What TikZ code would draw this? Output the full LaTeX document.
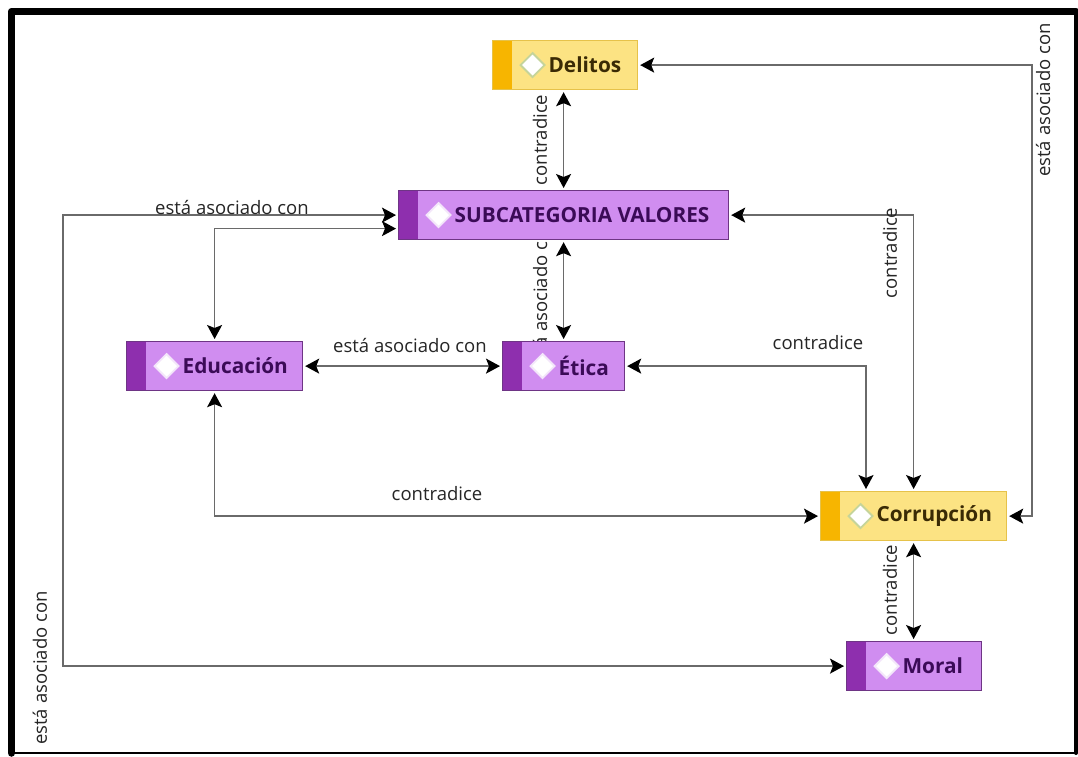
\documentclass[tikz,border=0pt]{standalone}
\usepackage{fontspec}
\setmainfont{Open Sans}
\usetikzlibrary{arrows.meta,calc}
\pgfdeclarelayer{bg}
\pgfsetlayers{bg,main}
\definecolor{ybody}{HTML}{FCE383}
\definecolor{ystripe}{HTML}{F7B500}
\definecolor{yborder}{HTML}{E6C24A}
\definecolor{pbody}{HTML}{D08DF0}
\definecolor{pstripe}{HTML}{8E2FAE}
\definecolor{pborder}{HTML}{6E3585}
\definecolor{ptext}{HTML}{3B0B57}
\definecolor{ytext}{HTML}{3A2A05}
\definecolor{edgegray}{HTML}{6A6A6A}
\definecolor{ydia}{HTML}{C5D49A}
\definecolor{pdia}{HTML}{F3E6FA}
\newcommand{\ctext}[2]{\makebox[#1][l]{\hspace{56pt}#2}}
\tikzset{
  codebox/.style={draw, line width=1.2pt, inner sep=0pt, minimum height=49pt,
    anchor=north west, font=\fontsize{20.8}{24}\selectfont\bfseries},
  ycode/.style={codebox, fill=ybody, draw=yborder, text=ytext,
    path picture={
      \fill[ystripe] (path picture bounding box.south west) rectangle ([xshift=19pt]path picture bounding box.north west);
      \filldraw[fill=white, draw=ydia, line width=1.8pt]
        ([xshift=28pt]path picture bounding box.west) -- ([xshift=40pt,yshift=12pt]path picture bounding box.west)
        -- ([xshift=52pt]path picture bounding box.west) -- ([xshift=40pt,yshift=-12pt]path picture bounding box.west) -- cycle;}},
  pcode/.style={codebox, fill=pbody, draw=pborder, text=ptext,
    path picture={
      \fill[pstripe] (path picture bounding box.south west) rectangle ([xshift=19pt]path picture bounding box.north west);
      \filldraw[fill=white, draw=pdia, line width=1.8pt]
        ([xshift=28pt]path picture bounding box.west) -- ([xshift=40pt,yshift=12pt]path picture bounding box.west)
        -- ([xshift=52pt]path picture bounding box.west) -- ([xshift=40pt,yshift=-12pt]path picture bounding box.west) -- cycle;}},
  tipx/.tip={Stealth[length=14pt,width=15pt,inset=3pt,color=black]},
  biarr/.style={draw=edgegray, line width=1.5pt, tipx-tipx,
    shorten <=2pt, shorten >=2pt},
  lbl/.style={font=\fontsize{18.5}{22}\selectfont, text=black!85, inner sep=0pt},
  framel/.style={draw=black, line cap=round}
}
\begin{document}
\begin{tikzpicture}[x=1pt,y=-1pt]
\useasboundingbox (0,0) rectangle (1078,756);

% nodes
\node[ycode, minimum width=145pt] (del) at (492,40) {\ctext{145pt}{Delitos}};
\node[pcode, minimum width=330pt] (sub) at (398,190) {\ctext{330pt}{SUBCATEGORIA VALORES}};
\node[pcode, minimum width=176pt] (edu) at (126,341) {\ctext{176pt}{Educación}};
\node[pcode, minimum width=122pt] (eti) at (502,341) {\ctext{122pt}{Ética}};
\node[ycode, minimum width=186pt] (cor) at (820,491) {\ctext{186pt}{Corrupción}};
\node[pcode, minimum width=135pt] (mor) at (846,641) {\ctext{135pt}{Moral}};

\coordinate (lx) at (63,0);
\coordinate (rx) at (1032,0);
\coordinate (ex) at (866,0);

\begin{pgfonlayer}{bg}
\fill[white] (0,0) rectangle (1078,756);
% frame
\draw[framel, line width=7.5pt, line join=round] (11.5,753) -- (11.5,11.5) -- (1076,11.5);
\draw[framel, line width=4pt] (1076,11.5) -- (1076,753);
\draw[framel, line width=2pt] (11.5,753) -- (1076,753);
% edges
\draw[biarr] (sub.north) -- (sub.north |- del.south);
\draw[biarr] (sub.south) -- (sub.south |- eti.north);
\draw[biarr] ([yshift=-13.5pt]sub.west) -| (edu.north);
\draw[biarr] (sub.west) -- (sub.west -| lx) -- (lx |- mor.west) -- (mor.west);
\draw[biarr] (sub.east) -| (cor.north);
\draw[biarr] (del.east) -- (del.east -| rx) -- (rx |- cor.east) -- (cor.east);
\draw[biarr] (edu.east) -- (eti.west);
\draw[biarr] (eti.east) -- (eti.east -| ex) -- (ex |- cor.north);
\draw[biarr] (edu.south) |- (cor.west);
\draw[biarr] (cor.south) -- (cor.south |- mor.north);
% labels
\node[lbl, rotate=90] (l1) at (540,140) {contradice};
\node[lbl, rotate=90] (l2) at (540,296) {está asociado con};
\node[lbl] (l3) at (232,207) {está asociado con};
\node[lbl, rotate=90] (l4) at (40,668) {está asociado con};
\node[lbl, rotate=90] (l5) at (890,253) {contradice};
\node[lbl, rotate=90] (l6) at (1043,100) {está asociado con};
\node[lbl] (l7) at (410,345) {está asociado con};
\node[lbl] (l8) at (818,343) {contradice};
\node[lbl] (l9) at (437,494) {contradice};
\node[lbl, rotate=90] (l10) at (890,590) {contradice};
\end{pgfonlayer}
\end{tikzpicture}
\end{document}
